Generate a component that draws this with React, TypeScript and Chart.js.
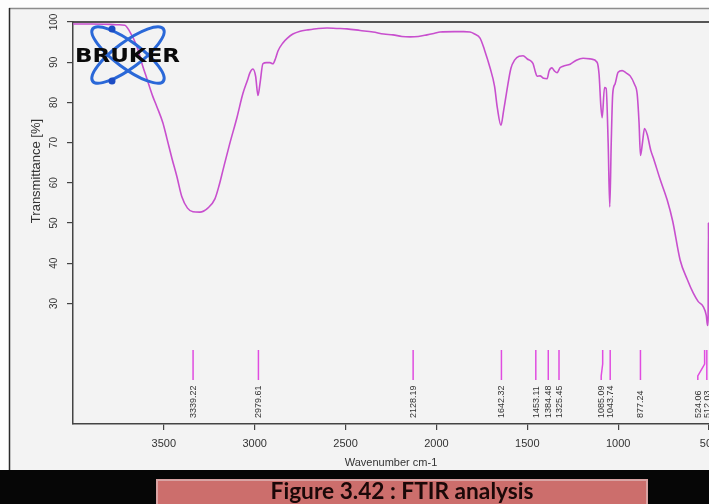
import React, { useEffect, useRef } from "react";
import { Chart, registerables } from "chart.js";

Chart.register(...registerables);

// Spectrum (wavenumber cm-1 -> transmittance %)
const wavenumbers = [
  4000, 3900, 3800, 3750, 3715, 3690, 3649, 3616, 3594, 3561, 3539, 3506, 3483, 3455, 3428, 3401,
  3370, 3340, 3302, 3258, 3219, 3195, 3175, 3137, 3098, 3065, 3040, 3026, 3010, 2995, 2982, 2970,
  2955, 2935, 2916, 2900, 2885, 2872, 2845, 2820, 2790, 2750, 2713, 2650, 2602, 2550, 2492, 2420,
  2349, 2290, 2239, 2190, 2145, 2100, 2052, 2010, 1980, 1900, 1850, 1815, 1790, 1760, 1735, 1705,
  1680, 1665, 1645, 1630, 1615, 1590, 1570, 1545, 1523, 1500, 1480, 1468, 1455, 1446, 1430, 1410,
  1391, 1380, 1365, 1350, 1336, 1320, 1303, 1264, 1230, 1193, 1150, 1116, 1105, 1095, 1088, 1075,
  1066, 1055, 1046, 1038, 1030, 1017, 1000, 978, 955, 934, 910, 895, 885, 877, 866, 855,
  840, 820, 807, 770, 730, 700, 659, 620, 587, 560, 532, 515, 508, 505, 503, 501
];
const transmittance = [
  99.5, 99.5, 99.4, 99.3, 99.2, 97.8, 94.0, 89.0, 86.0, 81.5, 79.0, 75.0, 71.0, 66.0, 61.5, 56.5,
  53.7, 52.8, 52.7, 53.7, 56.0, 59.5, 63.1, 69.8, 76.2, 82.2, 85.5, 87.4, 88.3, 86.5, 81.7, 85.0,
  89.6, 89.9, 89.9, 89.6, 91.0, 92.8, 94.8, 96.0, 97.0, 97.7, 98.0, 98.4, 98.5, 98.4, 98.3, 97.9,
  97.5, 97.0, 96.8, 96.4, 96.3, 96.4, 96.8, 97.2, 97.5, 97.6, 97.6, 97.5, 97.0, 96.0, 93.0, 88.6,
  84.0, 78.7, 74.3, 78.0, 82.2, 88.5, 90.5, 91.5, 91.6, 90.8, 90.3, 89.6, 87.5, 86.5, 86.6, 86.0,
  85.9, 87.8, 88.6, 87.8, 87.4, 88.6, 89.0, 89.5, 90.5, 91.0, 90.8, 90.0, 87.0, 79.0, 76.2, 83.7,
  83.5, 70.0, 54.0, 70.0, 82.0, 84.6, 87.5, 87.9, 87.3, 86.6, 84.5, 82.0, 75.0, 66.8, 70.0, 73.5,
  72.0, 68.0, 66.3, 61.0, 55.7, 50.5, 40.8, 36.0, 32.6, 30.5, 29.2, 27.0, 24.5, 26.0, 50.0, 28.0
];

const peakPositions = [3339.22, 2979.61, 2128.19, 1642.32, 1453.11, 1384.48, 1325.45, 1085.09, 1043.74, 877.24, 524.06, 512.03];
const peakLabels = ["3339.22", "2979.61", "2128.19", "1642.32", "1453.11", "1384.48", "1325.45", "1085.09", "1043.74", "877.24", "524.06", "512.03"];

const xTicks = [3500, 3000, 2500, 2000, 1500, 1000, 500];
const yTicks = [30, 40, 50, 60, 70, 80, 90, 100];

const xTitle = "Wavenumber cm-1";
const yTitle = "Transmittance [%]";
const caption = "Figure 3.42 : FTIR analysis";
const logoText = "BRUKER";

const FONT = '"Liberation Sans", Arial, sans-serif';

const backgroundPlugin = {
  id: "bg",
  beforeDraw(chart: any) {
    const { ctx, width, height, chartArea } = chart;
    ctx.save();
    ctx.fillStyle = "#f3f3f3";
    ctx.fillRect(0, 0, width, height);
    ctx.fillStyle = "#fdfdfd";
    ctx.fillRect(0, 0, width, 8);
    ctx.fillRect(0, 0, 9, height);
    // window frame
    ctx.strokeStyle = "#8c8c8c";
    ctx.lineWidth = 1.5;
    ctx.beginPath();
    ctx.moveTo(9, 8.5);
    ctx.lineTo(width, 8.5);
    ctx.stroke();
    ctx.strokeStyle = "#2a2a2a";
    ctx.beginPath();
    ctx.moveTo(9.5, 8);
    ctx.lineTo(9.5, height);
    ctx.stroke();
    // plot top border
    ctx.strokeStyle = "#555";
    ctx.lineWidth = 2;
    ctx.beginPath();
    ctx.moveTo(chartArea.left, chartArea.top);
    ctx.lineTo(chartArea.right, chartArea.top);
    ctx.stroke();
    // black caption bar
    ctx.fillStyle = "#060606";
    ctx.fillRect(0, 470, width, height - 470);
    ctx.fillStyle = "#cc6e6c";
    ctx.fillRect(157, 480, 490, height - 480);
    ctx.strokeStyle = "#d9a3a3";
    ctx.lineWidth = 2;
    ctx.strokeRect(157, 480, 490, height - 478);
    let size = 18;
    ctx.font = `bold ${size}px Lato, "Open Sans", sans-serif`;
    const w = ctx.measureText(caption).width;
    size = size * 263 / w;
    ctx.font = `bold ${size}px Lato, "Open Sans", sans-serif`;
    ctx.fillStyle = "#1b0808";
    ctx.textAlign = "center";
    ctx.textBaseline = "alphabetic";
    ctx.fillText(caption, 402, 499);
    ctx.restore();
  },
};

const markerPlugin = {
  id: "markers",
  afterDatasetsDraw(chart: any) {
    const { ctx, chartArea, scales } = chart;
    const x = scales.x;
    const bottom = chartArea.bottom;
    const px = peakPositions.map((p) => x.getPixelForValue(p));
    const lx = px.slice();
    for (let i = lx.length - 1; i >= 0; i--) {
      if (i === lx.length - 1) lx[i] = Math.min(lx[i], chart.width - 2);
      else if (lx[i + 1] - lx[i] < 9) lx[i] = lx[i + 1] - 9;
    }
    ctx.save();
    ctx.strokeStyle = "#e04ce0";
    ctx.lineWidth = 1.5;
    for (let i = 0; i < px.length; i++) {
      ctx.beginPath();
      ctx.moveTo(lx[i], bottom - 44);
      ctx.lineTo(lx[i], bottom - 48);
      ctx.lineTo(px[i], bottom - 60);
      ctx.lineTo(px[i], bottom - 74);
      ctx.stroke();
    }
    ctx.fillStyle = "#333";
    ctx.font = `9px ${FONT}`;
    ctx.textAlign = "left";
    ctx.textBaseline = "middle";
    for (let i = 0; i < px.length; i++) {
      ctx.save();
      ctx.translate(lx[i] + 0.5, bottom - 6);
      ctx.rotate(-Math.PI / 2);
      ctx.fillText(peakLabels[i], 0, 0);
      ctx.restore();
    }
    ctx.restore();
  },
};

const decorPlugin = {
  id: "decor",
  afterDraw(chart: any) {
    const { ctx } = chart;
    ctx.save();
    // y title
    ctx.translate(36, 171);
    ctx.rotate(-Math.PI / 2);
    ctx.fillStyle = "#333";
    ctx.font = `13px ${FONT}`;
    ctx.textAlign = "center";
    ctx.textBaseline = "middle";
    ctx.fillText(yTitle, 0, 0);
    ctx.restore();

    // logo
    ctx.save();
    const cx = 128, cy = 55;
    ctx.strokeStyle = "#2a68d8";
    ctx.lineWidth = 3;
    ctx.beginPath();
    ctx.ellipse(cx, cy, 44, 13, (36.6 * Math.PI) / 180, 0, Math.PI * 2);
    ctx.stroke();
    ctx.beginPath();
    ctx.ellipse(cx, cy, 44, 13, (-36.6 * Math.PI) / 180, 0, Math.PI * 2);
    ctx.stroke();
    ctx.fillStyle = "#1c4cc4";
    ctx.beginPath();
    ctx.arc(112, 29, 3.5, 0, Math.PI * 2);
    ctx.fill();
    ctx.beginPath();
    ctx.arc(112, 81, 3.5, 0, Math.PI * 2);
    ctx.fill();
    ctx.font = `bold 19px "DejaVu Sans", sans-serif`;
    const tw = ctx.measureText(logoText).width;
    ctx.translate(75, 62);
    ctx.scale(105 / tw, 1);
    ctx.fillStyle = "#0a0a0a";
    ctx.textAlign = "left";
    ctx.textBaseline = "alphabetic";
    ctx.fillText(logoText, 0, 0);
    ctx.restore();
  },
};

export default function App() {
  const ref = useRef<HTMLCanvasElement>(null);
  useEffect(() => {
    const canvas = ref.current;
    if (!canvas) return;
    const chart = new Chart(canvas, {
      type: "line",
      data: {
        datasets: [
          {
            data: wavenumbers.map((w, i) => ({ x: w, y: transmittance[i] })),
            borderColor: "#c84fce",
            borderWidth: 1.6,
            pointRadius: 0,
            fill: false,
            cubicInterpolationMode: "monotone",
          },
        ],
      },
      options: {
        animation: false,
        responsive: false,
        devicePixelRatio: 1,
        layout: { padding: { left: 0, right: 0, top: 22, bottom: 34 } },
        plugins: { legend: { display: false }, tooltip: { enabled: false } },
        scales: {
          x: {
            type: "linear",
            reverse: true,
            min: 500,
            max: 4000,
            afterBuildTicks: (s: any) => {
              s.ticks = xTicks.map((v) => ({ value: v }));
            },
            afterFit: (s: any) => {
              s.height = 46;
              s.paddingLeft = 0;
              s.paddingRight = 0;
            },
            ticks: {
              autoSkip: false,
              maxRotation: 0,
              minRotation: 0,
              padding: 7,
              color: "#333",
              font: { family: FONT, size: 11 },
              callback: (v: any) => String(v),
            },
            grid: { drawOnChartArea: false, tickLength: 6, color: "#444", lineWidth: 1.2 },
            border: { display: true, color: "#444", width: 1.5 },
            title: {
              display: true,
              text: xTitle,
              color: "#333",
              font: { family: FONT, size: 11 },
              padding: { top: 0, bottom: 0 },
            },
          },
          y: {
            type: "linear",
            min: 0,
            max: 100,
            afterBuildTicks: (s: any) => {
              s.ticks = yTicks.map((v) => ({ value: v }));
            },
            afterFit: (s: any) => {
              s.width = 73;
              s.paddingTop = 0;
              s.paddingBottom = 0;
            },
            ticks: {
              minRotation: 90,
              maxRotation: 90,
              crossAlign: "center",
              padding: 4,
              color: "#333",
              font: { family: FONT, size: 10 },
              callback: (v: any) => String(v),
            },
            grid: { drawOnChartArea: false, tickLength: 6, color: "#444", lineWidth: 1.2 },
            border: { display: true, color: "#444", width: 1.5 },
          },
        },
      } as any,
      plugins: [backgroundPlugin, markerPlugin, decorPlugin],
    });
    return () => chart.destroy();
  }, []);
  return (
    <div style={{ position: "absolute", left: 0, top: 0, width: 709, height: 504 }}>
      <canvas ref={ref} width={709} height={504} style={{ display: "block" }} />
    </div>
  );
}
